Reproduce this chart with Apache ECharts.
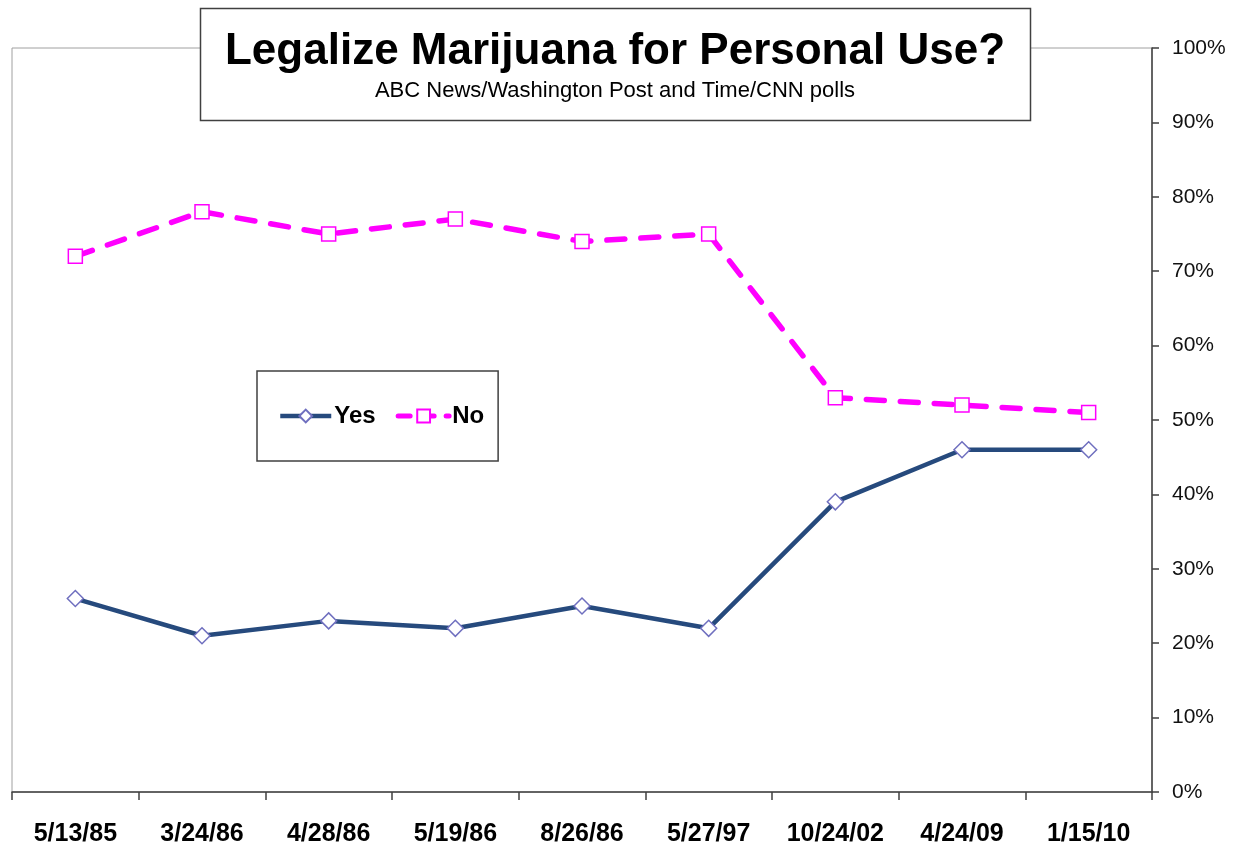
<!DOCTYPE html>
<html>
<head>
<meta charset="utf-8">
<script src="https://cdn.jsdelivr.net/npm/echarts@6/dist/echarts.min.js"></script>
<style>
    html, body { margin: 0; padding: 0; background: #fff; }
    #chart { width: 1239px; height: 844px; }
</style>
</head>
<body>
<div id="chart"></div>
<script type="text/javascript">
    var dates = ['5/13/85', '3/24/86', '4/28/86', '5/19/86', '8/26/86', '5/27/97', '10/24/02', '4/24/09', '1/15/10'];
    var yesValues = [26, 21, 23, 22, 25, 22, 39, 46, 46];
    var noValues = [72, 78, 75, 77, 74, 75, 53, 52, 51];

    var font = '"Liberation Sans", Arial, sans-serif';
    var chart = echarts.init(document.getElementById('chart'));
    chart.setOption({
        animation: false,
        backgroundColor: '#fff',
        grid: {
            left: 12, right: 87, top: 48, bottom: 52,
            outerBoundsMode: 'none',
            show: true, borderColor: '#a0a0a0', borderWidth: 1
        },
        graphic: [
            {
                type: 'rect', z: 100,
                shape: { x: 200.5, y: 8.5, width: 830, height: 112 },
                style: { fill: '#fff', stroke: '#404040', lineWidth: 1.5 }
            },
            {
                type: 'text', z: 101, x: 615, y: 52,
                style: {
                    text: 'Legalize Marijuana for Personal Use?',
                    fill: '#000', align: 'center', verticalAlign: 'middle',
                    font: 'bold 44px ' + font
                }
            },
            {
                type: 'text', z: 101, x: 615, y: 91,
                style: {
                    text: 'ABC News/Washington Post and Time/CNN polls',
                    fill: '#000', align: 'center', verticalAlign: 'middle',
                    font: '22px ' + font
                }
            }
        ],
        legend: {
            left: 257, top: 371,
            orient: 'horizontal',
            padding: [33, 14, 33, 21],
            backgroundColor: '#fff',
            borderColor: '#404040', borderWidth: 1.5,
            itemWidth: 51, itemHeight: 16, itemGap: 20,
            textStyle: { fontSize: 24, fontWeight: 'bold', color: '#000', fontFamily: font, padding: [0, 0, 0, -2] },
            data: [
                { name: 'Yes', lineStyle: { width: 4.5 } },
                { name: 'No', lineStyle: { width: 5, type: [12, 12] } }
            ]
        },
        xAxis: {
            type: 'category',
            data: dates,
            boundaryGap: true,
            axisLine: { lineStyle: { color: '#404040', width: 1.5 } },
            axisTick: { show: true, length: 8, lineStyle: { color: '#404040', width: 1.5 } },
            axisLabel: {
                margin: 30, fontSize: 25, fontWeight: 'bold', color: '#000',
                fontFamily: font
            },
            splitLine: { show: false }
        },
        yAxis: {
            type: 'value',
            position: 'right',
            min: 0, max: 100, interval: 10,
            axisLine: { show: true, lineStyle: { color: '#404040', width: 1.5 } },
            axisTick: { show: true, length: 7, lineStyle: { color: '#404040', width: 1.5 } },
            axisLabel: {
                margin: 20, fontSize: 21, color: '#111',
                fontFamily: font,
                formatter: '{value}%'
            },
            splitLine: { show: false }
        },
        series: [
            {
                name: 'Yes', type: 'line', data: yesValues,
                symbol: 'diamond', symbolSize: 16,
                lineStyle: { color: '#264a7d', width: 4.5 },
                itemStyle: { color: '#fff', borderColor: '#6f6fbf', borderWidth: 1.5 },
                z: 3
            },
            {
                name: 'No', type: 'line', data: noValues,
                symbol: 'rect', symbolSize: 14,
                lineStyle: { color: '#ff00ff', width: 5.5, type: [18, 16], cap: 'round' },
                itemStyle: { color: '#fff', borderColor: '#ff00ff', borderWidth: 1.5 },
                z: 3
            }
        ]
    });
</script>
</body>
</html>
